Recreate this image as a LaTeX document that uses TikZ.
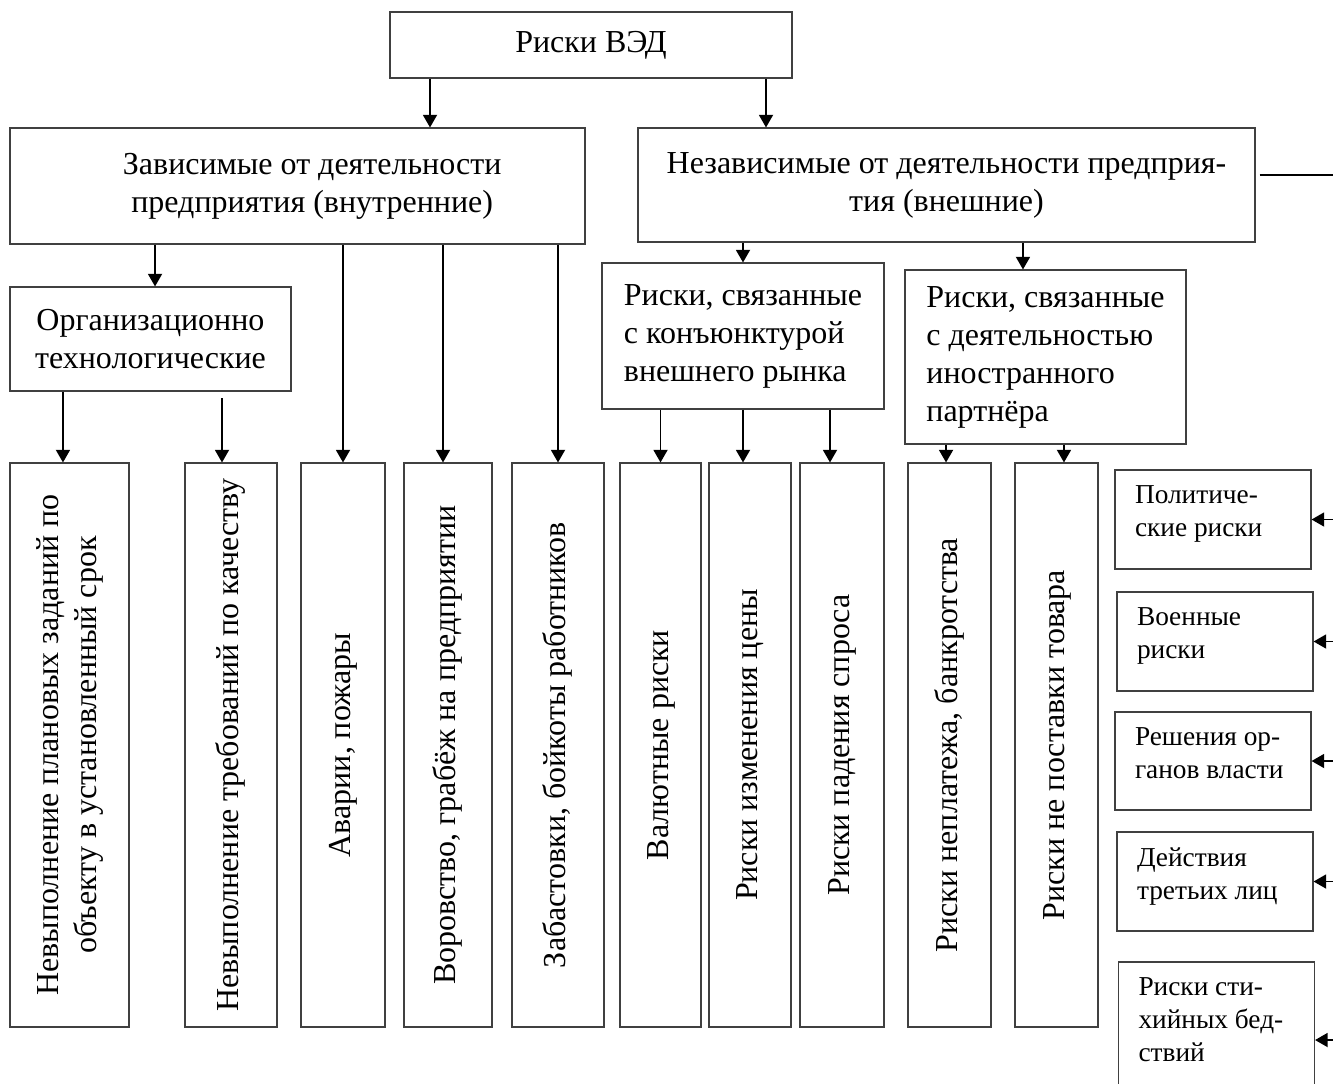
\documentclass[tikz,border=0pt]{standalone}
\usepackage{fontspec}
\setmainfont{Liberation Serif}
\usepackage{graphicx}
\usetikzlibrary{arrows.meta}
\definecolor{boxgray}{RGB}{64,64,64}
\newcommand{\vtext}[1]{\rotatebox{90}{\begin{tabular}{@{}c@{}}#1\end{tabular}}}
\newcommand{\sidetext}[2]{\begin{minipage}[c][#1][t]{117pt}\raggedright #2\end{minipage}}

\begin{document}
\begin{tikzpicture}[x=0.75pt, y=-0.75pt,
  box/.style={rectangle, draw=boxgray, line width=0.8pt, inner sep=0pt, font=\fontsize{24}{28.5}\selectfont},
  tallbox/.style={box, minimum height=423pt},
  sidebox/.style={rectangle, draw=boxgray, line width=0.8pt, inner xsep=15pt, inner ysep=12pt, font=\fontsize{20.5}{24.5}\selectfont},
  arr/.style={line width=1.4pt, -{Triangle[length=9.5pt, width=10.5pt]}}]
\useasboundingbox (0,0) rectangle (1333,1083);
\clip (0,0) rectangle (1333,1083);

% Top levels
\node[box, minimum width=301.5pt, minimum height=49.5pt] (top) at (591,45) {Риски ВЭД};
\node[box, minimum width=431.25pt, minimum height=87pt] (zav) at (297.5,186) {\hspace*{22pt}\begin{tabular}{@{}c@{}}Зависимые от деятельности\\предприятия (внутренние)\end{tabular}};
\node[box, minimum width=462.75pt, minimum height=85.5pt, align=center] (nezav) at (946.5,185) {Независимые от деятельности предприя-\\тия (внешние)};

% Groups
\node[box, minimum width=210.75pt, minimum height=78pt, align=center] (org) at (150.5,339) {Организационно\\технологические};
\node[box, minimum width=211.5pt, minimum height=109.5pt, align=left] (konj) at (743,336) {Риски, связанные\\с конъюнктурой\\внешнего рынка};
\node[box, minimum width=210.75pt, minimum height=130.5pt, align=left] (partn) at (1045.5,357) {Риски, связанные\\с деятельностью\\иностранного\\партнёра};

% Risks
\node[tallbox, minimum width=89.25pt] (t1) at (69.5,745) {\vtext{Невыполнение плановых заданий по\\объекту в установленный срок}};
\node[tallbox, minimum width=69pt] (t2) at (231,745) {\vtext{Невыполнение требований по качеству}};
\node[tallbox, minimum width=63pt] (t3) at (343,745) {\vtext{Аварии, пожары}};
\node[tallbox, minimum width=66pt] (t4) at (448,745) {\vtext{Воровство, грабёж на предприятии}};
\node[tallbox, minimum width=69pt] (t5) at (558,745) {\vtext{Забастовки, бойкоты работников}};
\node[tallbox, minimum width=60.75pt] (t6) at (660.5,745) {\vtext{Валютные риски}};
\node[tallbox, minimum width=61.5pt] (t7) at (750,745) {\vtext{Риски изменения цены}};
\node[tallbox, minimum width=63pt] (t8) at (842,745) {\vtext{Риски падения спроса}};
\node[tallbox, minimum width=62.25pt] (t9) at (949.5,745) {\vtext{Риски неплатежа, банкротства}};
\node[tallbox, minimum width=62.25pt] (t10) at (1056.5,745) {\vtext{Риски не поставки товара}};

% Side risks
\node[sidebox] (polit) at (1213,519.5) {\sidetext{50.25pt}{Политиче-\\ские риски}};
\node[sidebox] (mil) at (1215,641.5) {\sidetext{50.25pt}{Военные\\риски}};
\node[sidebox] (gov) at (1213,761) {\sidetext{49.5pt}{Решения ор-\\ганов власти}};
\node[sidebox] (third) at (1215,881.5) {\sidetext{50.25pt}{Действия\\третьих лиц}};
\node[sidebox] (wild) at (1216.5,1040) {\sidetext{93pt}{Риски сти-\\хийных бед-\\ствий}};
\coordinate (bus) at (1345,175);

% Arrows
\draw[arr] ([xshift=-120.75pt]top.south) -- ([xshift=-120.75pt]top.south |- zav.north);
\draw[arr] ([xshift=131.25pt]top.south) -- ([xshift=131.25pt]top.south |- nezav.north);
\draw[arr] ([xshift=3.4pt]org.north |- zav.south) -- ([xshift=3.4pt]org.north);
\draw[arr] ([xshift=-4.9pt]t1.north |- org.south) -- ([xshift=-4.9pt]t1.north);
\draw[arr, shorten <=5pt] ([xshift=-6.75pt]t2.north |- org.south) -- ([xshift=-6.75pt]t2.north);
\draw[arr] (t3.north |- zav.south) -- (t3.north);
\draw[arr] ([xshift=-3.75pt]t4.north |- zav.south) -- ([xshift=-3.75pt]t4.north);
\draw[arr] (t5.north |- zav.south) -- (t5.north);
\draw[arr] (konj.north |- nezav.south) -- (konj.north);
\draw[arr] ([xshift=-16.9pt]partn.north |- nezav.south) -- ([xshift=-16.9pt]partn.north);
\draw[arr] (t6.north |- konj.south) -- (t6.north);
\draw[arr] ([xshift=-5.25pt]t7.north |- konj.south) -- ([xshift=-5.25pt]t7.north);
\draw[arr] ([xshift=-9pt]t8.north |- konj.south) -- ([xshift=-9pt]t8.north);
\draw[arr] ([xshift=-2.6pt]t9.north |- partn.south) -- ([xshift=-2.6pt]t9.north);
\draw[arr] ([xshift=5.6pt]t10.north |- partn.south) -- ([xshift=5.6pt]t10.north);

% External line
\draw[line width=1.4pt] ([xshift=3pt]nezav.east |- bus) -- (bus) -- (bus |- wild.east);
\draw[arr] (bus |- polit.east) -- (polit.east);
\draw[arr] (bus |- mil.east) -- (mil.east);
\draw[arr] (bus |- gov.east) -- (gov.east);
\draw[arr] (bus |- third.east) -- (third.east);
\draw[arr] (bus |- wild.east) -- (wild.east);
\end{tikzpicture}
\end{document}
